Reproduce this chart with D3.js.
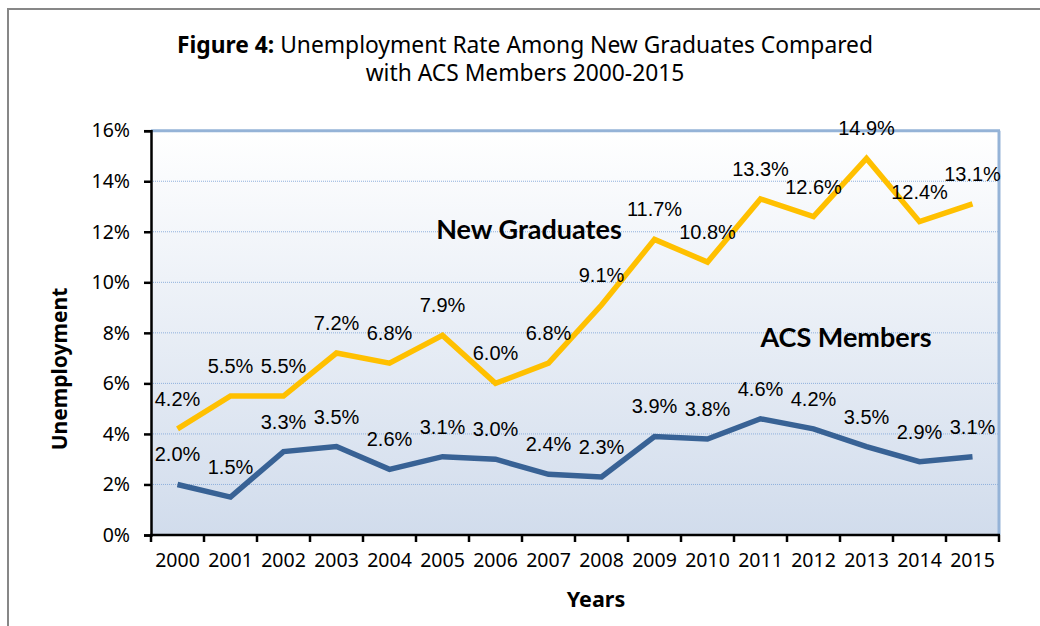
<!DOCTYPE html>
<html><head><meta charset="utf-8">
<script src="https://cdn.jsdelivr.net/npm/d3@7"></script>
<style>body{margin:0;background:#fff}svg{display:block}</style>
</head><body>
<svg id="c" width="1040" height="626"></svg>
<script>
const years = ["2000","2001","2002","2003","2004","2005","2006","2007","2008","2009","2010","2011","2012","2013","2014","2015"];
const newGraduates = [4.2,5.5,5.5,7.2,6.8,7.9,6.0,6.8,9.1,11.7,10.8,13.3,12.6,14.9,12.4,13.1];
const acsMembers = [2.0,1.5,3.3,3.5,2.6,3.1,3.0,2.4,2.3,3.9,3.8,4.6,4.2,3.5,2.9,3.1];
const yTicks = [0,2,4,6,8,10,12,14,16];
const titleLine1Bold = "Figure 4:";
const titleLine1 = " Unemployment Rate Among New Graduates Compared";
const titleLine2 = "with ACS Members 2000-2015";

const svg = d3.select("#c");
const L=151, R=999, T=130.7, B=535;

// outer border
svg.append("rect").attr("x",8).attr("y",9).attr("width",1100).attr("height",700)
  .attr("fill","none").attr("stroke","#878787").attr("stroke-width",2);

const defs = svg.append("defs");
const g = defs.append("linearGradient").attr("id","bg").attr("x1",0).attr("y1",0).attr("x2",0).attr("y2",1);
g.append("stop").attr("offset","0%").attr("stop-color","#ffffff");
g.append("stop").attr("offset","100%").attr("stop-color","#d1dcec");

const x = d3.scaleBand().domain(years).range([L,R]);
const y = d3.scaleLinear().domain([0,16]).range([B,T]);

svg.append("rect").attr("x",L).attr("y",T).attr("width",R-L).attr("height",B-T).attr("fill","url(#bg)");

// gridlines
svg.append("g").selectAll("line").data(yTicks.filter(d=>d>0&&d<16)).join("line")
  .attr("x1",L).attr("x2",R).attr("y1",d=>y(d)).attr("y2",d=>y(d))
  .attr("stroke","#8fb0dc").attr("stroke-width",1).attr("stroke-dasharray","1,1");
// top and right border
svg.append("line").attr("x1",L).attr("x2",R+1).attr("y1",y(16)).attr("y2",y(16)).attr("stroke","#95b3d7").attr("stroke-width",3);
svg.append("line").attr("x1",R).attr("x2",R).attr("y1",y(16)).attr("y2",B).attr("stroke","#95b3d7").attr("stroke-width",3);

// axes
const yAxis = svg.append("g").attr("transform",`translate(${L},0)`)
  .call(d3.axisLeft(y).tickValues(yTicks).tickFormat(d=>d+"%").tickSize(7).tickPadding(14));
yAxis.select(".domain").attr("stroke","#000").attr("stroke-width",2.5);
yAxis.selectAll(".tick line").attr("stroke","#000").attr("stroke-width",2.5);
yAxis.selectAll("text").attr("font-family","'Noto Sans', sans-serif").attr("font-size",19.5).attr("fill","#000");

const xAxis = svg.append("g").attr("transform",`translate(0,${B})`)
  .call(d3.axisBottom(x).tickSize(0).tickPadding(18));
xAxis.select(".domain").remove();
xAxis.selectAll("text").attr("font-family","'Noto Sans', sans-serif").attr("font-size",19.5).attr("fill","#000");
svg.append("line").attr("x1",L-1).attr("x2",R+1).attr("y1",B).attr("y2",B).attr("stroke","#000").attr("stroke-width",2.5);
svg.append("g").selectAll("line").data(years.concat(["end"])).join("line")
  .attr("x1",(d,i)=>i<years.length?x(d):R).attr("x2",(d,i)=>i<years.length?x(d):R)
  .attr("y1",B).attr("y2",B+7).attr("stroke","#000").attr("stroke-width",2.5);

// lines
const line = d3.line().x((d,i)=>x(years[i])+x.bandwidth()/2).y(d=>y(d));
svg.append("path").datum(newGraduates).attr("d",line).attr("fill","none").attr("stroke","#ffc000").attr("stroke-width",5.5).attr("stroke-linejoin","miter");
svg.append("path").datum(acsMembers).attr("d",line).attr("fill","none").attr("stroke","#386295").attr("stroke-width",5.5).attr("stroke-linejoin","miter");

// data labels
function labels(data){
  svg.append("g").selectAll("text").data(data).join("text")
    .attr("x",(d,i)=>x(years[i])+x.bandwidth()/2).attr("y",d=>y(d)-23)
    .attr("text-anchor","middle").attr("font-family","'Liberation Sans', Arial, sans-serif")
    .attr("font-size",20).attr("fill","#000").text(d=>d.toFixed(1)+"%");
}
labels(newGraduates);
labels(acsMembers);

// series labels
svg.append("text").attr("x",529).attr("y",239).attr("text-anchor","middle")
  .attr("font-family","Lato, sans-serif").attr("font-weight",700).attr("font-size",27).text("New Graduates");
svg.append("text").attr("x",846).attr("y",347).attr("text-anchor","middle")
  .attr("font-family","Lato, sans-serif").attr("font-weight",700).attr("font-size",27).text("ACS Members");

// title
const t1 = svg.append("text").attr("x",525).attr("y",53).attr("text-anchor","middle")
  .attr("font-family","'Noto Sans', sans-serif").attr("font-size",22.8);
t1.append("tspan").attr("font-weight",700).text(titleLine1Bold);
t1.append("tspan").text(titleLine1);
svg.append("text").attr("x",525).attr("y",81).attr("text-anchor","middle")
  .attr("font-family","'Noto Sans', sans-serif").attr("font-size",22.8).text(titleLine2);

// axis titles
svg.append("text").attr("transform","translate(67,369) rotate(-90)").attr("text-anchor","middle")
  .attr("font-family","'Noto Sans', sans-serif").attr("font-weight",700).attr("font-size",21).text("Unemployment");
svg.append("text").attr("x",596).attr("y",607).attr("text-anchor","middle")
  .attr("font-family","'Noto Sans', sans-serif").attr("font-weight",700).attr("font-size",21.5).text("Years");
</script>
</body></html>
